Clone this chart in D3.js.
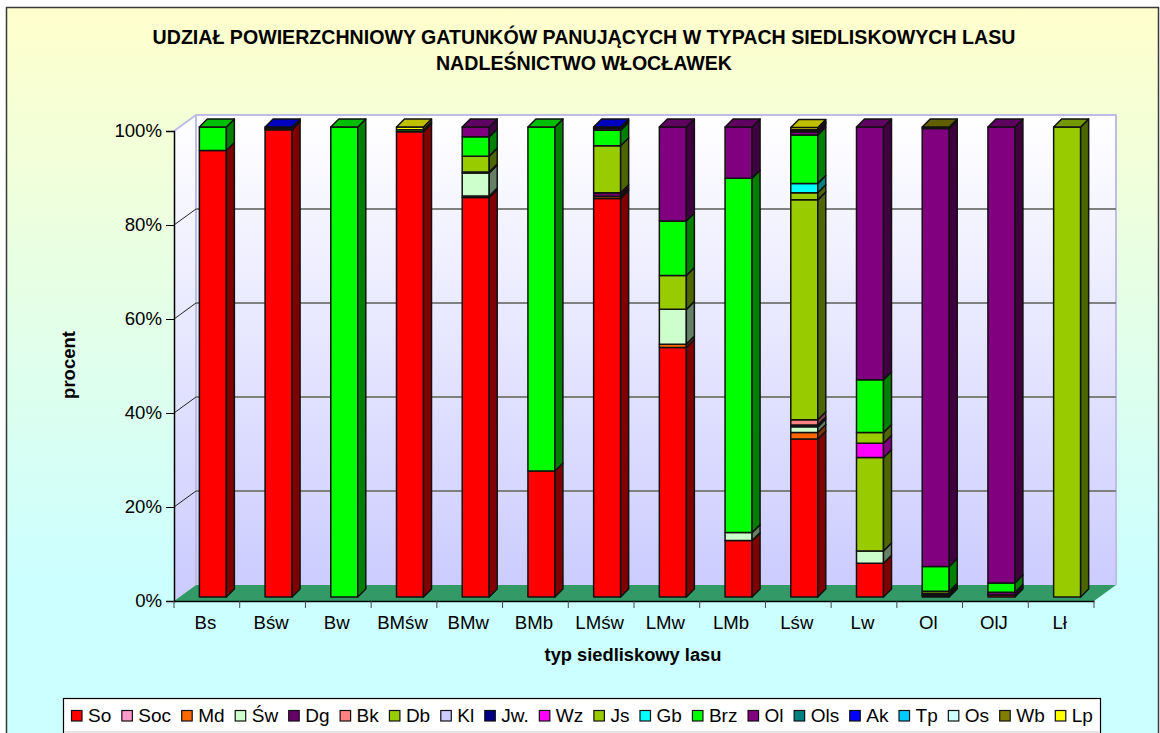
<!DOCTYPE html>
<html><head><meta charset="utf-8">
<script src="https://cdn.jsdelivr.net/npm/d3@7"></script>
<style>html,body{margin:0;padding:0;background:#fff;overflow:hidden}svg{display:block}text{font-family:"Liberation Sans",Arial,sans-serif;fill:#000}</style>
</head><body><div id="c"></div>
<script>
const titleLines = ["UDZIAŁ POWIERZCHNIOWY GATUNKÓW PANUJĄCYCH W TYPACH SIEDLISKOWYCH LASU","NADLEŚNICTWO WŁOCŁAWEK"];
const yTitle = "procent", xTitle = "typ siedliskowy lasu";
const categories = ["Bs","Bśw","Bw","BMśw","BMw","BMb","LMśw","LMw","LMb","Lśw","Lw","Ol","OlJ","Lł"];
const seriesNames = ["So","Soc","Md","Św","Dg","Bk","Db","Kl","Jw.","Wz","Js","Gb","Brz","Ol","Ols","Ak","Tp","Os","Wb","Lp"];
const seriesColors = ["#FF0000","#FF99CC","#FF6600","#CCFFCC","#660066","#FF8080","#99CC00","#CCCCFF","#000080","#FF00FF","#99CC00","#00FFFF","#00FF00","#800080","#008080","#0000FF","#00CCFF","#CCFFFF","#808000","#FFFF00"];
const So  = [95,99.4,0,99,85,26.8,84.8,53.1,12,33.6,7.2,0.3,0.4,0];
const Soc = [0,0,0,0,0,0,0,0,0,0,0,0,0,0];
const Md  = [0,0,0,0,0.3,0,0.4,0.7,0,1.4,0,0,0,0];
const Sw  = [0,0,0,0,4.9,0,0,7.4,1.7,1.2,2.6,0.2,0,0];
const Dg  = [0,0,0,0,0.2,0,0.8,0,0,0.4,0,0.3,0.6,0];
const Bk  = [0,0,0,0,0,0,0,0,0,1.1,0,0,0,0];
const Db  = [0,0,0,0,3.4,0,10,7.2,0,46.8,19.9,0,0,100];
const Kl  = [0,0,0,0,0,0,0,0,0,0,0,0,0,0];
const Jw  = [0,0,0,0,0,0,0,0,0,0,0,0,0,0];
const Wz  = [0,0,0,0,0,0,0,0,0,0,3,0,0,0];
const Js  = [0,0,0,0,0,0,0,0,0,1.5,2.3,0.4,0,0];
const Gb  = [0,0,0,0,0,0,0,0,0,2,0,0,0,0];
const Brz = [5,0.3,100,0.4,4.1,73.2,3.3,11.6,75.4,10.3,11.2,5.3,2,0];
const Ol  = [0,0,0,0,2.1,0,0.4,20,10.9,0.7,53.8,93.2,97,0];
const Ols = [0,0,0,0,0,0,0,0,0,0,0,0,0,0];
const Ak  = [0,0.3,0,0,0,0,0.3,0,0,0.2,0,0,0,0];
const Tp  = [0,0,0,0,0,0,0,0,0,0.2,0,0,0,0];
const Os  = [0,0,0,0,0,0,0,0,0,0,0,0,0,0];
const Wb  = [0,0,0,0,0,0,0,0,0,0,0,0.3,0,0];
const Lp  = [0,0,0,0.6,0,0,0,0,0,0.5,0,0,0,0];
const seriesValues = [So,Soc,Md,Sw,Dg,Bk,Db,Kl,Jw,Wz,Js,Gb,Brz,Ol,Ols,Ak,Tp,Os,Wb,Lp];
const yTicks = [0,20,40,60,80,100];

const W=1160,H=733;
const svg=d3.select("#c").append("svg").attr("width",W).attr("height",H);
const defs=svg.append("defs");
const g1=defs.append("linearGradient").attr("id","bg").attr("x1",0).attr("y1",0).attr("x2",0).attr("y2",1);
g1.append("stop").attr("offset",0).attr("stop-color","#FFFFCC");
g1.append("stop").attr("offset",0.78).attr("stop-color","#CCFFFF");
g1.append("stop").attr("offset",1).attr("stop-color","#CCFFFF");
const wallTop=115,wallBot=585;
const g2=defs.append("linearGradient").attr("id","wall").attr("gradientUnits","userSpaceOnUse").attr("x1",0).attr("y1",wallTop).attr("x2",0).attr("y2",wallBot);
g2.append("stop").attr("offset",0).attr("stop-color","#FFFFFF");
g2.append("stop").attr("offset",1).attr("stop-color","#CCCCFF");

svg.append("rect").attr("x",6.5).attr("y",7.5).attr("width",1152).attr("height",730).attr("fill","url(#bg)").attr("stroke","#3a3a3a").attr("stroke-width",1.5);

const x=d3.scaleBand().domain(categories).range([174,1094]);
const y=d3.scaleLinear().domain([0,100]).range([601,131]);
const dx=22,dy=-16;
const poly=(pts)=>"M"+pts.map(p=>p.join(",")).join("L")+"Z";
const x0=x.range()[0],x1=x.range()[1];

// walls and floor
svg.append("path").attr("d",poly([[x0,y(100)],[x0+dx,y(100)+dy],[x0+dx,y(0)+dy],[x0,y(0)]])).attr("fill","url(#wall)");
svg.append("path").attr("d",poly([[x0+dx,y(100)+dy],[x1+dx,y(100)+dy],[x1+dx,y(0)+dy],[x0+dx,y(0)+dy]])).attr("fill","url(#wall)");
svg.append("path").attr("d",`M${x0},${y(100)}L${x0+dx},${y(100)+dy}L${x1+dx},${y(100)+dy}L${x1+dx},${y(0)+dy}M${x0+dx},${y(100)+dy}L${x0+dx},${y(0)+dy}`).attr("fill","none").attr("stroke","#BDBDE6").attr("stroke-width",2);
svg.append("path").attr("d",poly([[x0,y(0)],[x0+dx,y(0)+dy],[x1+dx,y(0)+dy],[x1,y(0)]])).attr("fill","#339966");
yTicks.filter(t=>t>0&&t<100).forEach(t=>{
  svg.append("line").attr("x1",x0+dx).attr("x2",x1+dx).attr("y1",y(t)+dy).attr("y2",y(t)+dy).attr("stroke","#808080").attr("stroke-width",2);
  svg.append("line").attr("x1",x0).attr("x2",x0+dx).attr("y1",y(t)).attr("y2",y(t)+dy).attr("stroke","#222").attr("stroke-width",1);
});

// bars
const rows=categories.map((c,i)=>{const r={cat:c};seriesNames.forEach((s,k)=>r[s]=seriesValues[k][i]);return r;});
const stacked=d3.stack().keys(seriesNames)(rows);
const barW=27,bdx=8,bdy=-8,ox=6,oy=-4;
const shade=(c,f)=>{const q=d3.rgb(c);return d3.rgb(q.r*f,q.g*f,q.b*f).formatHex();};
const barsG=svg.append("g").attr("stroke","#111").attr("stroke-width",1.5).attr("stroke-linejoin","round");
categories.forEach((c,i)=>{
  const left=x(c)+(x.bandwidth()-barW)/2+ox, g=barsG.append("g");
  let topSeg=null;
  stacked.forEach((s,k)=>{
    const a=s[i][0],b=s[i][1]; if(b-a<=0) return;
    const yb=y(a)+oy,yt=y(b)+oy;
    g.append("rect").attr("x",left).attr("y",yt).attr("width",barW).attr("height",yb-yt).attr("fill",seriesColors[k]);
    g.append("path").attr("d",poly([[left+barW,yb],[left+barW+bdx,yb+bdy],[left+barW+bdx,yt+bdy],[left+barW,yt]])).attr("fill",shade(seriesColors[k],0.5));
    topSeg={yt,k};
  });
  g.append("path").attr("d",poly([[left,topSeg.yt],[left+bdx,topSeg.yt+bdy],[left+barW+bdx,topSeg.yt+bdy],[left+barW,topSeg.yt]])).attr("fill",shade(seriesColors[topSeg.k],0.75));
});

// axes
const yAxis=d3.axisLeft(y).tickValues(yTicks).tickFormat(d=>d+"%").tickSize(8).tickPadding(4);
const ya=svg.append("g").attr("transform",`translate(${x0},0)`).call(yAxis);
const xAxis=d3.axisBottom(x).tickSize(0).tickPadding(15);
const xa=svg.append("g").attr("transform",`translate(0,${y(0)})`).call(xAxis);
xa.selectAll(".tick line").remove();
const bnd=categories.map(c=>x(c)).concat([x1]);
xa.selectAll("line.t").data(bnd).enter().append("line").attr("class","t").attr("x1",d=>d).attr("x2",d=>d).attr("y1",0).attr("y2",7).attr("stroke","#444").attr("stroke-width",1);
[ya,xa].forEach(a=>{a.selectAll("text").style("font-size","18.6px").attr("fill","#111");a.selectAll(".domain").attr("stroke","#000").attr("stroke-width",1.5);a.selectAll(".tick line").attr("stroke","#000");});
xa.selectAll(".tick text").attr("dx",-1.5);

// titles
titleLines.forEach((t,i)=>svg.append("text").attr("x",584).attr("y",44+i*26).attr("text-anchor","middle").style("font-size","19.6px").style("font-weight","bold").text(t));
svg.append("text").attr("transform","translate(75,365) rotate(-90)").attr("text-anchor","middle").style("font-size","18.5px").style("font-weight","bold").text(yTitle);
svg.append("text").attr("x",633).attr("y",661).attr("text-anchor","middle").style("font-size","18.3px").style("font-weight","bold").text(xTitle);

// legend
svg.append("rect").attr("x",63.5).attr("y",698.5).attr("width",1037).attr("height",40).attr("fill","#fff").attr("stroke","#000").attr("stroke-width",1.2);
svg.append("rect").attr("x",64).attr("y",731).attr("width",1036).attr("height",2).attr("fill","#e4e4e4");
let lx=71;
seriesNames.forEach((s,k)=>{
  svg.append("rect").attr("x",lx+.5).attr("y",710.5).attr("width",10.5).attr("height",10.5).attr("fill",seriesColors[k]).attr("stroke","#111").attr("stroke-width",1.2);
  const t=svg.append("text").attr("x",lx+17).attr("y",721.5).style("font-size","19px").text(s);
  lx+=17+t.node().getComputedTextLength()+10.1;
});
</script></body></html>
